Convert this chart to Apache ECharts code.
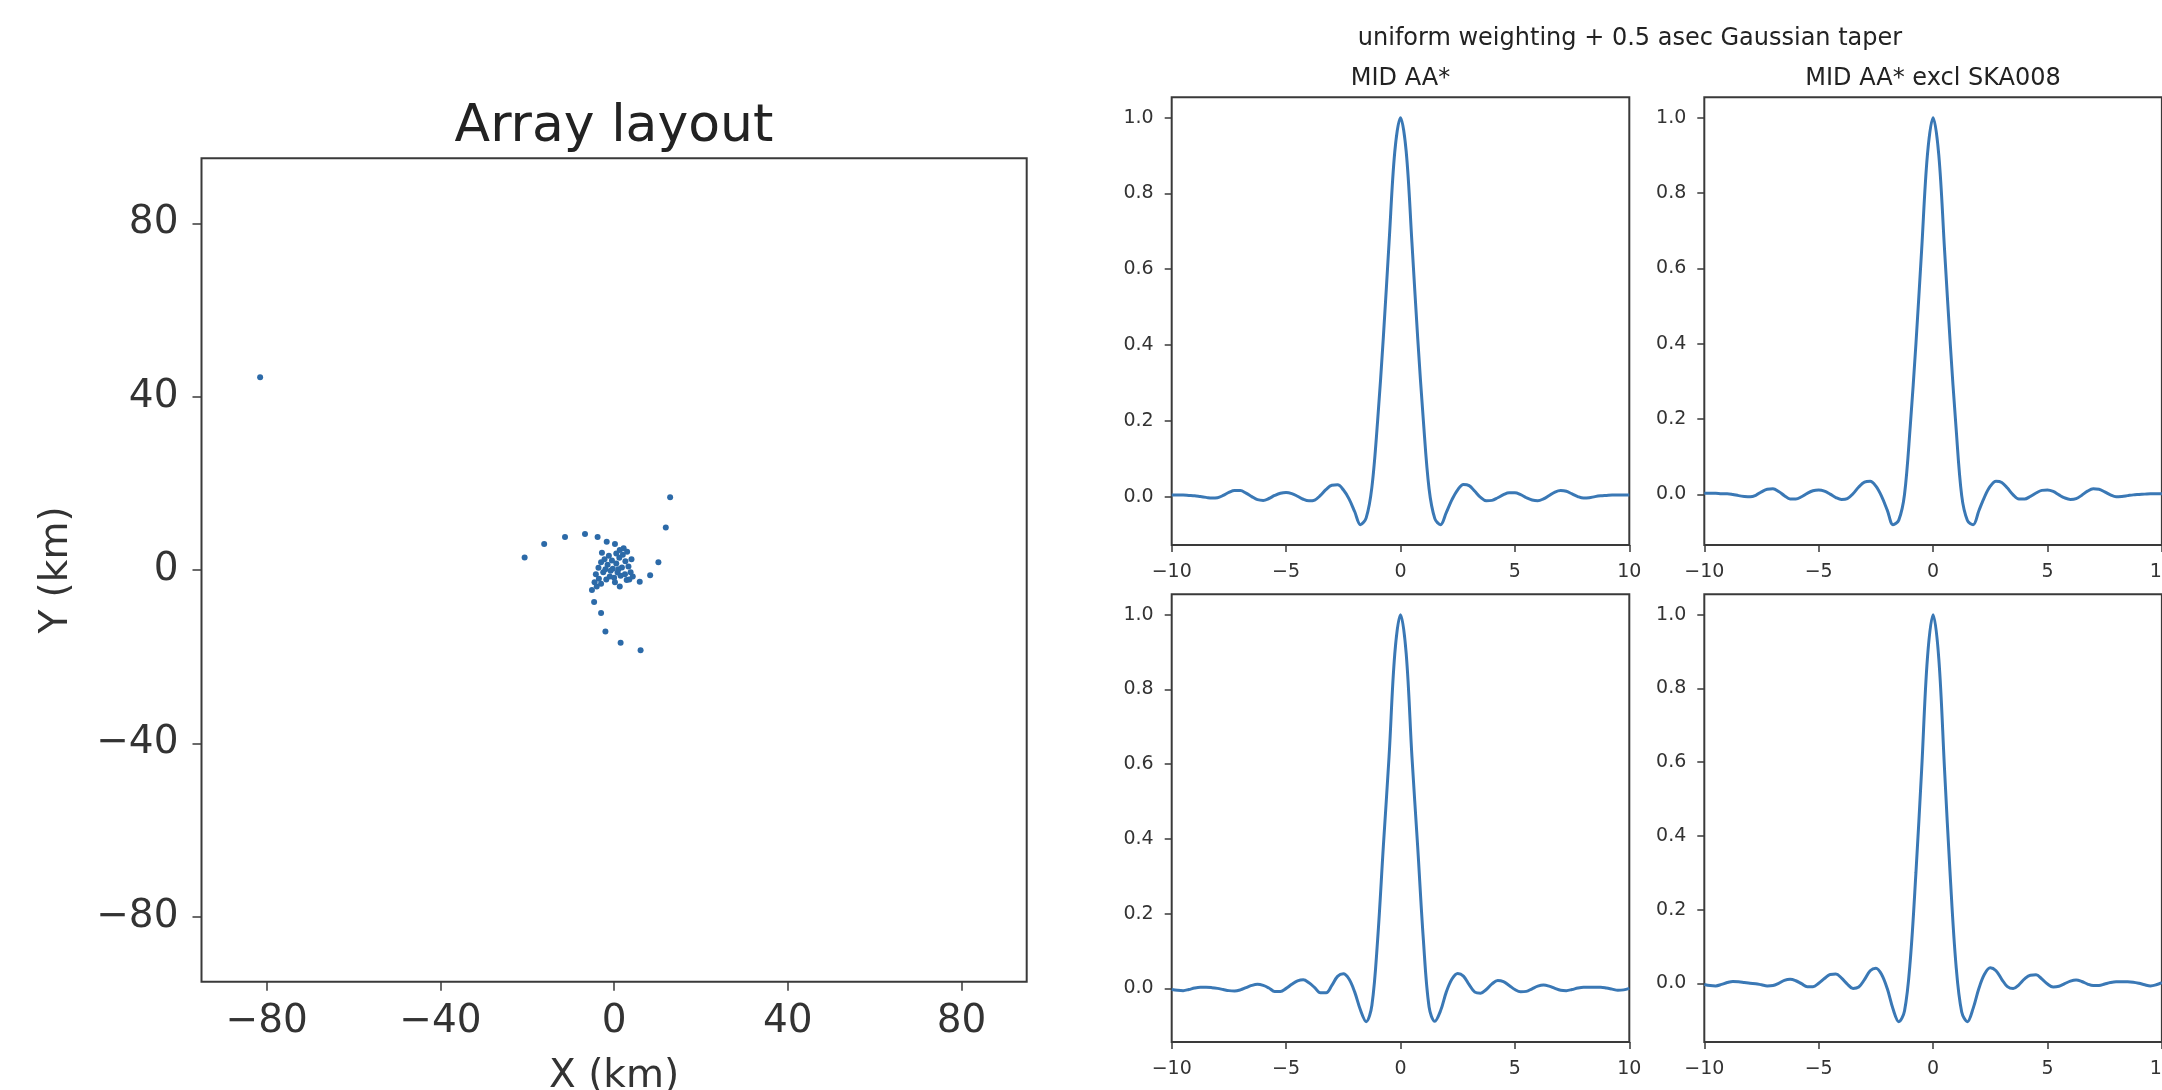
<!DOCTYPE html>
<html>
<head>
    <meta charset="utf-8">
    <title>Array layout and PSF cuts</title>
    <script src="https://cdn.jsdelivr.net/npm/echarts@6/dist/echarts.min.js"></script>
</head>
<body style="background-color: #ffffff; margin: 0px;">
    <div id="main" style="width: 2162px; height: 1090px;"></div>
    <script type="text/javascript">
        // antenna positions in km
        var antennaX = [-81.5, -20.6, -16.1, -11.3, -6.7, -3.8, -1.7, 0.2, 1.3,
            12.9, 11.9, 10.2, 8.3, 5.9, 2.9, 1.3,
            -5.1, -4.6, -3.0, -2.0, 1.5, 6.1,
            -4.2, -3.6, -3.0, -2.2, -1.5, -2.5, -1.0, -0.3, 0.5, 1.2, 2.0, 2.6, 1.8,
            0.8, 0.0, -1.8, -3.5, -4.5, 3.3, 3.8, 2.5, 1.5, 0.5, -0.5, -1.2, 3.0,
            4.0, 2.2, -2.8, -0.8, 1.0, -2.0, 0.2, 4.3, 3.5, -3.0, -4.0];
        var antennaY = [44.5, 2.9, 6.0, 7.6, 8.3, 7.6, 6.5, 6.0, 4.6,
            16.8, 9.8, 1.8, -1.2, -2.7, -2.3, -3.8,
            -4.6, -7.4, -9.9, -14.2, -16.8, -18.5,
            -1.0, 0.5, 1.8, 2.5, 1.2, -0.5, -1.5, 0.3, 1.5, 2.8, 3.5, 2.0, 0.6,
            -0.6, -1.8, -2.2, -2.0, -2.8, 0.8, -0.5, -1.0, -1.3, 3.8, 2.2, 3.3, 4.2,
            2.5, 5.0, 4.0, -0.2, 0.2, 0.2, -2.8, -1.5, -2.2, -3.2, -3.8];
        var layoutTicks = [-80, -40, 0, 40, 80];

        // PSF cut offsets (asec) and the four cuts
        var psfOffset = [
            -10, -9.75, -9.5, -9.25,  -9, -8.75, -8.5, -8.25,  -8, -7.75, -7.5, -7.25,
            -7, -6.75, -6.5, -6.25,  -6, -5.75, -5.5, -5.25,  -5, -4.75, -4.5, -4.25,
            -4, -3.75, -3.5, -3.25,  -3, -2.75, -2.5, -2.25,  -2, -1.75, -1.5, -1.25,
            -1, -0.75, -0.5, -0.25,  0, 0.25, 0.5, 0.75,  1, 1.25, 1.5, 1.75,
            2, 2.25, 2.5, 2.75,  3, 3.25, 3.5, 3.75,  4, 4.25, 4.5, 4.75,
            5, 5.25, 5.5, 5.75,  6, 6.25, 6.5, 6.75,  7, 7.25, 7.5, 7.75,
            8, 8.25, 8.5, 8.75,  9, 9.25, 9.5, 9.75,  10];
        var psfMidAA = [
            0.004, 0.004, 0.004, 0.003,  0.002, 0.000, -0.002, -0.004,
            -0.003, 0.003, 0.011, 0.016,  0.016, 0.009, 0.000, -0.008,
            -0.010, -0.005, 0.003, 0.009,  0.011, 0.008, 0.001, -0.007,
            -0.011, -0.009, 0.003, 0.019,  0.030, 0.031, 0.018, -0.006,
            -0.040, -0.074, -0.056, 0.025,  0.200, 0.420, 0.670, 0.910,
            1.000, 0.910, 0.670, 0.420,  0.200, 0.020, -0.058, -0.074,
            -0.042, -0.008, 0.018, 0.032,  0.029, 0.014, -0.002, -0.011,
            -0.010, -0.003, 0.005, 0.010,  0.010, 0.005, -0.003, -0.009,
            -0.011, -0.006, 0.003, 0.012,  0.016, 0.014, 0.007, 0.000,
            -0.004, -0.003, 0.000, 0.002,  0.003, 0.004, 0.004, 0.004,  0.004];
        var psfExcl = [
            0.003, 0.003, 0.003, 0.002,  0.002, 0.000, -0.003, -0.005,
            -0.006, -0.002, 0.007, 0.014,  0.015, 0.008, -0.003, -0.012,
            -0.012, -0.006, 0.003, 0.010,  0.012, 0.009, 0.001, -0.008,
            -0.013, -0.011, 0.002, 0.020,  0.033, 0.035, 0.022, -0.005,
            -0.042, -0.080, -0.068, 0.000,  0.180, 0.400, 0.650, 0.900,
            1.000, 0.900, 0.650, 0.400,  0.180, -0.003, -0.069, -0.080,
            -0.043, -0.006, 0.022, 0.035,  0.032, 0.017, -0.001, -0.012,
            -0.012, -0.005, 0.004, 0.011,  0.012, 0.008, -0.001, -0.009,
            -0.013, -0.011, -0.002, 0.009,  0.015, 0.014, 0.007, -0.001,
            -0.006, -0.005, -0.003, -0.001,  0.000, 0.001, 0.002, 0.002,  0.002];
        var psfMidAALower = [
            -0.003, -0.005, -0.006, -0.003,  0.001, 0.003, 0.003, 0.002,
            0.000, -0.003, -0.006, -0.007,  -0.004, 0.002, 0.008, 0.011,
            0.008, 0.001, -0.008, -0.008,  0.000, 0.011, 0.020, 0.023,
            0.015, 0.002, -0.012, -0.012,  0.008, 0.032, 0.039, 0.025,
            -0.010, -0.058, -0.089, -0.045,  0.130, 0.380, 0.620, 0.895,
            1.000, 0.895, 0.620, 0.380,  0.130, -0.050, -0.088, -0.060,
            -0.010, 0.025, 0.040, 0.033,  0.010, -0.010, -0.013, -0.003,
            0.012, 0.021, 0.018, 0.008,  -0.003, -0.009, -0.008, -0.001,
            0.006, 0.009, 0.006, 0.000,  -0.005, -0.006, -0.003, 0.001,
            0.003, 0.003, 0.003, 0.003,  0.001, -0.002, -0.005, -0.004,  0.000];
        var psfExclLower = [
            -0.003, -0.006, -0.007, -0.003,  0.002, 0.005, 0.004, 0.002,
            0.000, -0.001, -0.004, -0.007,  -0.006, 0.000, 0.008, 0.011,
            0.007, -0.001, -0.009, -0.009,  0.000, 0.013, 0.024, 0.025,
            0.014, -0.002, -0.014, -0.010,  0.010, 0.034, 0.041, 0.024,
            -0.015, -0.070, -0.104, -0.075,  0.060, 0.300, 0.580, 0.880,
            1.000, 0.880, 0.580, 0.290,  0.050, -0.078, -0.104, -0.068,
            -0.014, 0.025, 0.042, 0.034,  0.011, -0.009, -0.014, -0.004,
            0.012, 0.022, 0.023, 0.012,  -0.002, -0.010, -0.008, -0.001,
            0.006, 0.009, 0.005, -0.002,  -0.006, -0.006, -0.002, 0.002,
            0.004, 0.004, 0.004, 0.003,  0.000, -0.004, -0.007, -0.004,  0.002];
        var psfXTicks = [-10, -5, 0, 5, 10];
        var psfYTicks = [0, 0.2, 0.4, 0.6, 0.8, 1.0];

        var FONT = 'DejaVu Sans';
        var AXIS_COLOR = '#3a3a3a';
        var TEXT_COLOR = '#333';
        var BLUE = '#3a78b5';

        function minusSign(v) {
            return String(v).replace('-', '\u2212');
        }

        // matplotlib-like autoscale: 5% margin around the data
        function paddedRange(values) {
            var lo = Math.min.apply(null, values);
            var hi = Math.max.apply(null, values);
            var pad = 0.05 * (hi - lo);
            return [lo - pad, hi + pad];
        }

        function pairs(xs, ys) {
            var out = [];
            for (var i = 0; i < xs.length; i++) {
                out.push([xs[i], ys[i]]);
            }
            return out;
        }

        var myChart = echarts.init(document.getElementById('main'));

        var panelW = 457.6, panelH = 447.7;
        var panelGrids = [
            { left: 1171.7, top: 97.3 },
            { left: 1704.3, top: 97.3 },
            { left: 1171.7, top: 594.3 },
            { left: 1704.3, top: 594.3 }
        ];
        var panelData = [psfMidAA, psfExcl, psfMidAALower, psfExclLower];

        var grids = [{
            left: 201.5, top: 158.3, width: 825.2, height: 823.4,
            show: true, borderColor: AXIS_COLOR, borderWidth: 2, outerBoundsMode: 'none'
        }];
        var xAxes = [{
            type: 'value', gridIndex: 0, min: -95, max: 95,
            name: 'X (km)', nameLocation: 'middle', nameGap: 76,
            nameTextStyle: { fontFamily: FONT, fontSize: 39, color: TEXT_COLOR },
            axisLine: { show: false, onZero: false },
            axisTick: { show: true, length: 9, lineStyle: { color: AXIS_COLOR, width: 1.5 }, customValues: layoutTicks },
            axisLabel: { fontFamily: FONT, fontSize: 39, color: TEXT_COLOR, margin: 21, customValues: layoutTicks, formatter: minusSign },
            splitLine: { show: false }
        }];
        var yAxes = [{
            type: 'value', gridIndex: 0, min: -95, max: 95,
            name: 'Y (km)', nameLocation: 'middle', nameGap: 125,
            nameTextStyle: { fontFamily: FONT, fontSize: 39, color: TEXT_COLOR },
            axisLine: { show: false, onZero: false },
            axisTick: { show: true, length: 9, lineStyle: { color: AXIS_COLOR, width: 1.5 }, customValues: layoutTicks },
            axisLabel: { fontFamily: FONT, fontSize: 39, color: TEXT_COLOR, margin: 23, customValues: layoutTicks, formatter: minusSign },
            splitLine: { show: false }
        }];
        var series = [{
            type: 'scatter', xAxisIndex: 0, yAxisIndex: 0,
            data: pairs(antennaX, antennaY),
            symbolSize: 6,
            itemStyle: { color: '#2c6aa8', opacity: 1 }
        }];

        for (var p = 0; p < 4; p++) {
            var range = paddedRange(panelData[p]);
            grids.push({
                left: panelGrids[p].left, top: panelGrids[p].top, width: panelW, height: panelH,
                show: true, borderColor: AXIS_COLOR, borderWidth: 2, outerBoundsMode: 'none'
            });
            xAxes.push({
                type: 'value', gridIndex: p + 1, min: -10, max: 10,
                axisLine: { show: false, onZero: false },
                axisTick: { show: true, length: 7, lineStyle: { color: AXIS_COLOR, width: 1.5 }, customValues: psfXTicks },
                axisLabel: { fontFamily: FONT, fontSize: 19, color: TEXT_COLOR, margin: 18, customValues: psfXTicks, formatter: minusSign },
                splitLine: { show: false }
            });
            yAxes.push({
                type: 'value', gridIndex: p + 1, min: range[0], max: range[1],
                axisLine: { show: false, onZero: false },
                axisTick: { show: true, length: 7, lineStyle: { color: AXIS_COLOR, width: 1.5 }, customValues: psfYTicks },
                axisLabel: {
                    fontFamily: FONT, fontSize: 19, color: TEXT_COLOR, margin: 18, customValues: psfYTicks,
                    formatter: function (v) { return v.toFixed(1); }
                },
                splitLine: { show: false }
            });
            series.push({
                type: 'line', xAxisIndex: p + 1, yAxisIndex: p + 1,
                data: pairs(psfOffset, panelData[p]),
                showSymbol: false, smooth: 0.35,
                lineStyle: { color: BLUE, width: 3 }
            });
        }

        option = {
            animation: false,
            backgroundColor: '#ffffff',
            grid: grids,
            xAxis: xAxes,
            yAxis: yAxes,
            series: series,
            graphic: [
                { type: 'text', x: 614, y: 127, style: { text: 'Array layout', fontFamily: FONT, fontSize: 52, fill: '#222', align: 'center', verticalAlign: 'middle' } },
                { type: 'text', x: 1630, y: 39, style: { text: 'uniform weighting + 0.5 asec Gaussian taper', fontFamily: FONT, fontSize: 24, fill: '#222', align: 'center', verticalAlign: 'middle' } },
                { type: 'text', x: 1400.5, y: 79, style: { text: 'MID AA*', fontFamily: FONT, fontSize: 24, fill: '#222', align: 'center', verticalAlign: 'middle' } },
                { type: 'text', x: 1933, y: 79, style: { text: 'MID AA* excl SKA008', fontFamily: FONT, fontSize: 24, fill: '#222', align: 'center', verticalAlign: 'middle' } }
            ]
        };
        myChart.setOption(option);
    </script>
</body>
</html>
